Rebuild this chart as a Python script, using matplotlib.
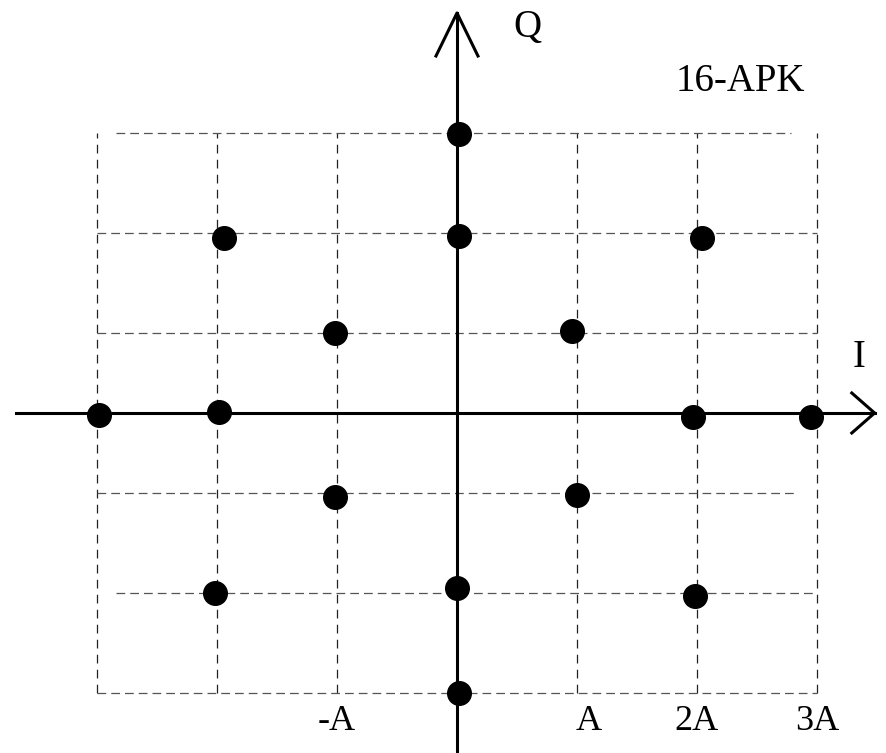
import matplotlib.pyplot as plt

# constellation points (I, Q) in units of A
pts_i = [-2.98, -1.98, -1.94, -1.02, -1.02, -2.02, 0.02, 0.02,
         0.0, 0.02, 0.96, 1.0, 2.04, 1.97, 2.95, 1.98]
pts_q = [-0.02, 0.01, 1.75, 0.80, -0.84, -1.80, 2.79, 1.77,
         -1.75, -2.80, 0.82, -0.82, 1.75, -0.04, -0.04, -1.83]

# dashed grid
grid_x = [-3, -2, -1, 1, 2, 3]
grid_y = [2.8, 1.8, 0.8, -0.8, -1.8, -2.8]
grid_y_left = [-2.84, -3, -3, -3, -2.84, -3]
grid_y_right = [2.78, 3, 3, 2.84, 3, 3]

tick_pos = [-1.0, 1.1, 2.0, 3.0]
tick_text = ['-A', 'A', '2A', '3A']

plt.rcParams['font.family'] = ['Liberation Serif', 'DejaVu Serif']

fig = plt.figure(figsize=(8.86, 7.53), dpi=100)
ax = fig.add_axes([0, 0, 1, 1])
ax.set_xlim(-3.808, 3.575)
ax.set_ylim(-3.40, 4.13)
ax.axis('off')

# grid lines
for x in grid_x:
    ax.plot([x, x], [-2.8, 2.8], color='#222222', lw=0.9, dashes=(7, 5), zorder=1)
for y, x0, x1 in zip(grid_y, grid_y_left, grid_y_right):
    ax.plot([x0, x1], [y, y], color='#555555', lw=0.9, dashes=(7, 4), zorder=1)

# axes with open arrow heads
ax.plot([-3.675, 3.48], [0, 0], color='black', lw=2.2, zorder=2)
ax.plot([3.29, 3.48, 3.29], [0.2, 0, -0.2], color='black', lw=2.2, zorder=2)
ax.plot([0, 0], [-3.4, 4.0], color='black', lw=2.2, zorder=2)
ax.plot([-0.175, 0, 0.175], [3.57, 4.0, 3.57], color='black', lw=2.2, zorder=2)

# points
ax.plot(pts_i, pts_q, 'o', color='black', markersize=17, zorder=3)

# labels
ax.text(0.59, 3.85, 'Q', fontsize=28, ha='center', va='center')
ax.text(3.35, 0.55, 'I', fontsize=28, ha='center', va='center')
ax.text(2.36, 3.31, '16-APK', fontsize=28, ha='center', va='center')
for x, t in zip(tick_pos, tick_text):
    ax.text(x, -3.09, t, fontsize=26, ha='center', va='center')

fig.savefig('out.png', dpi=100)
